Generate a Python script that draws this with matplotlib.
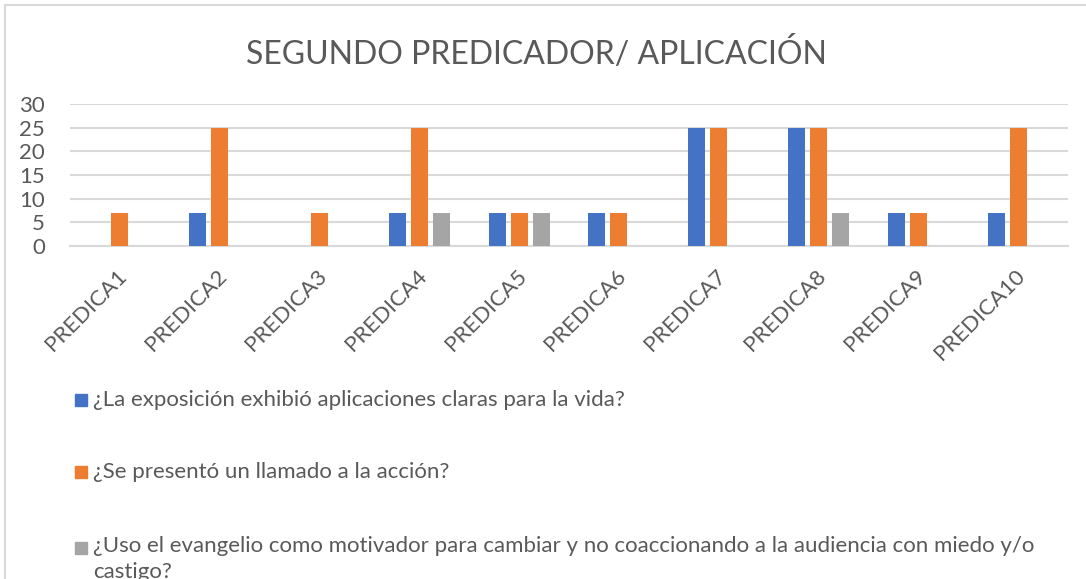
import numpy as np
import matplotlib.pyplot as plt
import matplotlib.transforms as mtransforms
from matplotlib.patches import Rectangle

plt.rcParams['font.family'] = ['Lato', 'DejaVu Sans']

# datos
predicas = ['PREDICA1', 'PREDICA2', 'PREDICA3', 'PREDICA4', 'PREDICA5',
            'PREDICA6', 'PREDICA7', 'PREDICA8', 'PREDICA9', 'PREDICA10']
aplicaciones = [0, 7, 0, 7, 7, 7, 25, 25, 7, 7]
llamado = [7, 25, 7, 25, 7, 7, 25, 25, 7, 25]
evangelio = [0, 0, 0, 7, 7, 0, 0, 7, 0, 0]

series = [
    ('¿La exposición exhibió aplicaciones claras para la vida?', aplicaciones, '#4472C4'),
    ('¿Se presentó un llamado a la acción?', llamado, '#ED7D31'),
    ('¿Uso el evangelio como motivador para cambiar y no coaccionando a la audiencia con miedo y/o\ncastigo?',
     evangelio, '#A5A5A5'),
]

W, H = 1086, 579
fig = plt.figure(figsize=(W / 100, H / 100), dpi=100)
ax = fig.add_axes([70 / W, (H - 246) / H, (1068 - 70) / W, (246 - 104) / H])

x = np.arange(len(predicas))
offsets = [-0.22, 0.0, 0.22]
for (label, vals, color), off in zip(series, offsets):
    ax.bar(x + off, vals, width=0.17, color=color, zorder=3)

ax.set_xlim(-0.5, len(predicas) - 0.5)
ax.set_ylim(0, 30)
ax.set_yticks(range(0, 31, 5))
ax.yaxis.grid(True, color='#D9D9D9', linewidth=1.5, zorder=0)
for s in ['top', 'right', 'left']:
    ax.spines[s].set_visible(False)
ax.spines['bottom'].set_color('#D9D9D9')
ax.spines['bottom'].set_linewidth(1.5)
ax.tick_params(axis='both', length=0, labelsize=16, labelcolor='#595959')
ax.tick_params(axis='y', pad=18)
ax.set_xticks(x)
ax.set_xticklabels(predicas, rotation=45, ha='right', va='top',
                   rotation_mode='anchor')
shift = mtransforms.ScaledTranslation(-0.03, -0.15, fig.dpi_scale_trans)
for t in ax.get_xticklabels():
    t.set_transform(t.get_transform() + shift)

fig.text(536 / W, 1 - 53 / H, 'SEGUNDO PREDICADOR/ APLICACIÓN', ha='center', va='center',
         fontsize=23, color='#595959')

# leyenda dibujada a mano (como en Excel)
rows_y = [400, 472, 548]
for (label, vals, color), yy in zip(series, rows_y):
    fig.add_artist(Rectangle((75 / W, 1 - (yy + 6) / H), 12 / W, 12 / H,
                             transform=fig.transFigure, color=color))
    if '\n' in label:
        fig.text(93 / W, 1 - (yy - 12) / H, label, ha='left', va='top',
                 fontsize=16, color='#595959', linespacing=1.35)
    else:
        fig.text(93 / W, 1 - yy / H, label, ha='left', va='center',
                 fontsize=16, color='#595959')

# borde del área del gráfico
fig.add_artist(Rectangle((5 / W, -0.1), 1.2, 1 - 5 / H + 0.1, transform=fig.transFigure,
                         fill=False, edgecolor='#D9D9D9', linewidth=1.5))

fig.savefig('out.png', dpi=100)
